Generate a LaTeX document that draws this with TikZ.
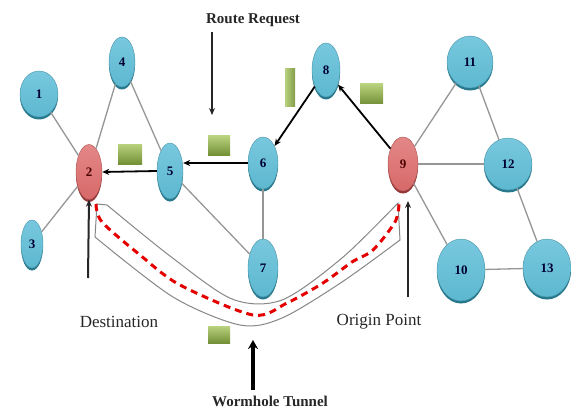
\documentclass[tikz,border=0pt]{standalone}
\usepackage{fontspec}
\setmainfont{Liberation Serif}
\usetikzlibrary{shapes.geometric,arrows.meta,shadows}
\definecolor{nblue}{RGB}{92,184,208}
\definecolor{nbluetop}{RGB}{120,200,222}
\definecolor{nbluerim}{RGB}{38,120,140}
\definecolor{nred}{RGB}{215,105,105}
\definecolor{nredtop}{RGB}{228,135,135}
\definecolor{nredrim}{RGB}{150,55,55}
\definecolor{gtop}{RGB}{185,210,125}
\definecolor{gbot}{RGB}{115,145,55}
\definecolor{edgegray}{RGB}{150,150,150}
\begin{document}
\begin{tikzpicture}[x=1pt,y=-1pt,
  bnode/.style={ellipse, inner sep=0pt, top color=nbluetop, bottom color=nblue, draw=nblue!80!black, line width=0.4pt,
     general shadow={fill=nbluerim, shadow xshift=0pt, shadow yshift=-2.5pt},
     font=\fontsize{13}{13}\selectfont\bfseries, text=black!80!blue},
  rnode/.style={ellipse, inner sep=0pt, top color=nredtop, bottom color=nred, draw=nred!80!black, line width=0.4pt,
     general shadow={fill=nredrim, shadow xshift=0pt, shadow yshift=-2.5pt},
     font=\fontsize{13}{13}\selectfont\bfseries, text=black!70!red},
  link/.style={edgegray, line width=1.3pt},
  hop/.style={black, line width=1.8pt, -{Stealth[length=7pt,width=6pt]}},
  pointer/.style={black!85, line width=2pt, -{Stealth[length=7pt,width=6pt]}},
  pkt/.style={top color=gtop, bottom color=gbot, draw=none},
  pktv/.style={left color=gtop, right color=gbot!90, draw=none},
  lbl/.style={font=\fontsize{17}{17}\selectfont, text=black!85},
  blbl/.style={font=\fontsize{15}{15}\selectfont\bfseries, text=black!85},
]
\useasboundingbox (0,0) rectangle (571,412);

% wormhole band
\draw[edgegray!90!black, line width=1pt, fill=white]
  (97,204) -- (107,205)
  -- plot[smooth] coordinates {(107,205) (170,256) (232,299) (282,300) (342,258) (398,203)}
  -- (400,240)
  -- plot[smooth] coordinates {(400,240) (342,282) (282,318) (240,325) (173,297) (95,237)}
  -- cycle;
\draw[red!90!black, line width=3pt, dash pattern=on 7pt off 5pt]
  plot[smooth] coordinates {(96,204) (102,222) (140,255) (180,285) (253,315) (287,303) (323,283) (352,262) (373,250) (395,222) (399,204)};

% nodes
\node[bnode, minimum width=38pt, minimum height=46pt] (n1) at (39,94) {1};
\node[rnode, minimum width=26pt, minimum height=55pt] (n2) at (89,172) {2};
\node[bnode, minimum width=22pt, minimum height=48pt] (n3) at (32,244) {3};
\node[bnode, minimum width=26pt, minimum height=50pt] (n4) at (122,62) {4};
\node[bnode, minimum width=26pt, minimum height=56pt] (n5) at (170,171) {5};
\node[bnode, minimum width=30pt, minimum height=52pt] (n6) at (263,163) {6};
\node[bnode, minimum width=30pt, minimum height=58pt] (n7) at (263,268) {7};
\node[bnode, minimum width=28pt, minimum height=54pt] (n8) at (326,70) {8};
\node[rnode, minimum width=30pt, minimum height=54pt] (n9) at (403,164) {9};
\node[bnode, minimum width=46pt, minimum height=52pt] (n11) at (470,62) {11};
\node[bnode, minimum width=48pt, minimum height=52pt] (n12) at (508,164) {12};
\node[bnode, minimum width=48pt, minimum height=62pt] (n10) at (461,270) {10};
\node[bnode, minimum width=48pt, minimum height=58pt] (n13) at (547,268) {13};

% gray links
\draw[link] (n1) -- (n2);
\draw[link] (n3) -- (n2);
\draw[link] (n4) -- (n2);
\draw[link] (n4) -- (n5);
\draw[link] (n5) -- (n7);
\draw[link] (n6) -- (n7);
\draw[link] (n9) -- (n11);
\draw[link] (n9) -- (n12);
\draw[link] (n9) -- (n10);
\draw[link] (n11) -- (n12);
\draw[link] (n12) -- (n13);
\draw[link] (n10) -- (n13);

% route reply hops
\draw[hop] (n5.west) -- (n2.east);
\draw[hop] (n6.west) -- (n5.east |- n6.west);
\draw[hop] (n8) -- (n6);
\draw[hop] (n9) -- (n8);

% packets
\fill[pkt] (118,144) rectangle (142,164);
\fill[pkt] (208,136) rectangle (230,155);
\fill[pktv] (285,69) rectangle (295,107);
\fill[pkt] (360,84) rectangle (383,104);
\fill[pkt] (208,326) rectangle (230,343);

% labels and pointers
\node[blbl] (rr) at (253,20) {Route Request};
\coordinate (rrfoot) at (212,32);
\coordinate (rrtip) at (212,115);
\draw[pointer, line width=1.8pt] (rrfoot) -- (rrtip);

\node[lbl] (dest) at (119,322) {Destination};
\coordinate (destfoot) at (88,278);
\draw[pointer] (destfoot) -- (n2.south);

\node[lbl] (orig) at (379,322) {Origin Point};
\coordinate (origfoot) at (408,297);
\coordinate (origtip) at (408,201);
\draw[pointer] (origfoot) -- (origtip);

\node[blbl] (wt) at (270,401) {Wormhole Tunnel};
\coordinate (wtfoot) at (253,390);
\coordinate (wttip) at (253,340);
\draw[black, line width=4pt, -{Stealth[length=9pt,width=10pt]}] (wtfoot) -- (wttip);
\end{tikzpicture}
\end{document}
